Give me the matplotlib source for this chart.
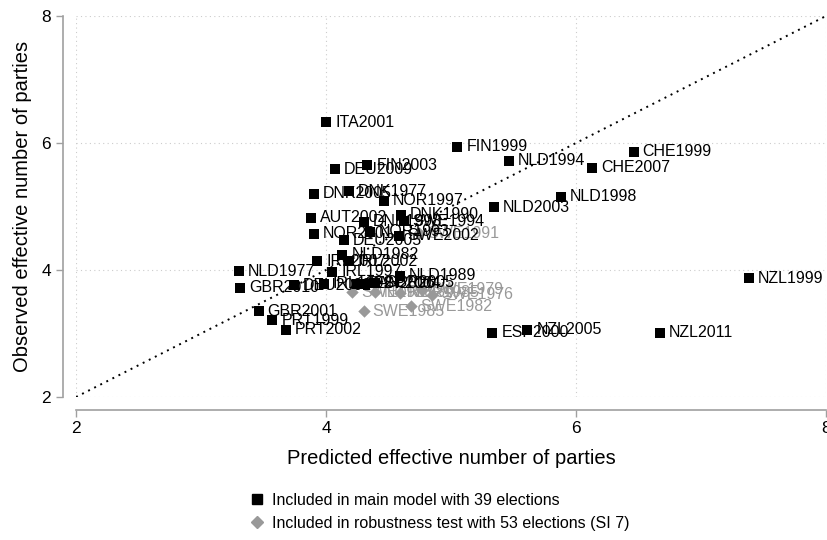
import matplotlib

matplotlib.use("Agg")
import matplotlib.pyplot as plt
from matplotlib.lines import Line2D

plt.rcParams["font.family"] = ["Liberation Sans", "DejaVu Sans"]

# elections in the main model (black squares)
main_labels = ["ITA2001", "FIN1999", "CHE1999", "NLD1994", "CHE2007", "DEU2009", "FIN2003",
               "DNK1977", "DNK2005", "NOR1997", "NLD1998", "NLD2003", "AUT2002", "DNK1998",
               "DNK1990", "SWE1994", "NOR2001", "DEU2005", "NOR1993", "SWE2002", "NLD1982",
               "IRL2007", "IRL2002", "NLD1977", "IRL1997", "NLD1989", "GBR2010", "DEU2002",
               "IRL1992", "CAN2006", "ESP2004", "GBR2005", "GBR2001", "PRT1999", "PRT2002",
               "ESP2000", "NZL2005", "NZL2011", "NZL1999"]
main_pred = [4.00, 5.05, 6.46, 5.46, 6.13, 4.07, 4.33,
             4.18, 3.90, 4.46, 5.88, 5.34, 3.88, 4.30,
             4.60, 4.62, 3.90, 4.14, 4.35, 4.58, 4.13,
             3.93, 4.18, 3.30, 4.05, 4.59, 3.31, 3.74,
             3.98, 4.25, 4.31, 4.39, 3.46, 3.57, 3.68,
             5.33, 5.61, 6.67, 7.38]
main_obs = [6.33, 5.94, 5.86, 5.72, 5.61, 5.59, 5.65,
            5.24, 5.20, 5.09, 5.15, 4.99, 4.82, 4.76,
            4.87, 4.77, 4.57, 4.47, 4.60, 4.54, 4.24,
            4.14, 4.14, 3.98, 3.97, 3.91, 3.72, 3.76,
            3.78, 3.78, 3.78, 3.80, 3.35, 3.21, 3.06,
            3.01, 3.06, 3.01, 3.87]

# extra elections only in the robustness test (grey diamonds)
rob_labels = ["SWE1991", "SWE1985", "SWE1982", "SWE1979", "SWE1976", "SWE1988", "NOR1989", "NOR1985"]
rob_pred = [4.74, 4.30, 4.68, 4.77, 4.85, 4.21, 4.39, 4.59]
rob_obs = [4.58, 3.35, 3.43, 3.69, 3.61, 3.65, 3.65, 3.64]

GREY = "#999999"

fig = plt.figure(figsize=(8.28, 5.4), dpi=100)
ax = fig.add_axes([0.0918, 0.2648, 0.9058, 0.7056])

ax.plot([2, 8], [2, 8], color="black", linestyle=(0, (1, 2.5)), linewidth=1.4, zorder=1)

ax.scatter(rob_pred, rob_obs, marker="D", s=40, color=GREY, linewidths=0, zorder=2)
for lab, x, y in zip(rob_labels, rob_pred, rob_obs):
    ax.annotate(lab, (x, y), xytext=(6.5, 0), textcoords="offset points",
                va="center", ha="left", fontsize=11.5, color=GREY, zorder=2)

ax.scatter(main_pred, main_obs, marker="s", s=52, color="black", linewidths=0, zorder=3)
for lab, x, y in zip(main_labels, main_pred, main_obs):
    ax.annotate(lab, (x, y), xytext=(6.5, 0), textcoords="offset points",
                va="center", ha="left", fontsize=11.5, color="black", zorder=3,
                annotation_clip=False)

ax.set_xlim(2, 8)
ax.set_ylim(2, 8)
ax.set_xticks([2, 4, 6, 8])
ax.set_yticks([2, 4, 6, 8])
ax.grid(True, color="#cccccc", linestyle=(0, (1, 3)), linewidth=0.8)
ax.set_axisbelow(True)

for side in ("top", "right"):
    ax.spines[side].set_visible(False)
ax.spines["left"].set_position(("outward", 9.5))
ax.spines["bottom"].set_position(("outward", 9))
for side in ("left", "bottom"):
    ax.spines[side].set_color("#a0a0a0")
    ax.spines[side].set_linewidth(1.2)
ax.tick_params(colors="#a0a0a0", labelcolor="black", labelsize=12.5, length=5, width=1)

ax.set_xlabel("Predicted effective number of parties", fontsize=14.5, labelpad=9)
ax.set_ylabel("Observed effective number of parties", fontsize=14.5, labelpad=7)

handles = [
    Line2D([], [], marker="s", color="black", linestyle="none", markersize=7),
    Line2D([], [], marker="D", color=GREY, linestyle="none", markersize=6),
]
fig.legend(handles, ["Included in main model with 39 elections",
                     "Included in robustness test with 53 elections (SI 7)"],
           loc="center left", bbox_to_anchor=(0.282, 0.052), frameon=False,
           fontsize=11.5, handletextpad=0.4, labelspacing=0.5, handlelength=1.1)

fig.savefig("out.png", dpi=100)
